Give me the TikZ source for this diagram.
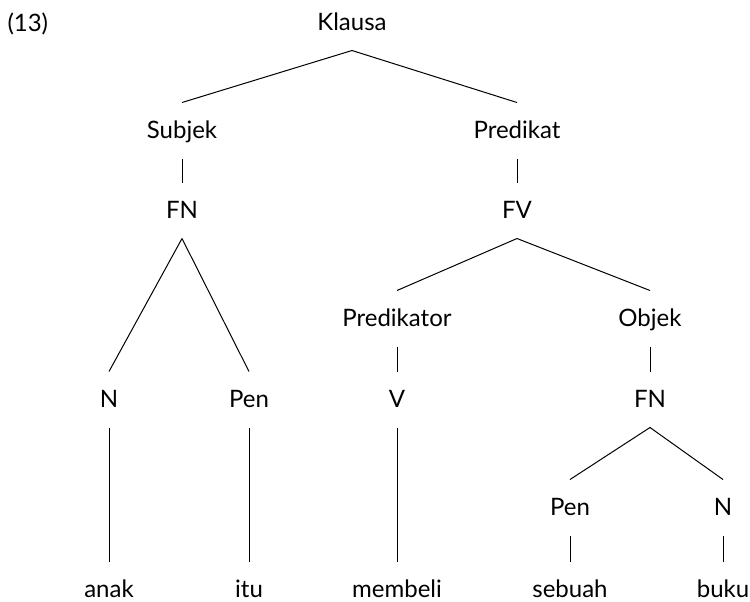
\documentclass[tikz,border=0pt]{standalone}
\usepackage{fontspec}
\newfontfamily\treefont{Lato}
\usetikzlibrary{positioning}

\tikzset{every picture/.style={line width=0.75pt}}
\tikzset{lbl/.style={anchor=base,inner xsep=0pt,inner ysep=0pt,text height=26.25pt,text depth=15pt,font=\treefont\fontsize{18}{22}\selectfont}}

\begin{document}
\begin{tikzpicture}[x=0.75pt,y=0.75pt,yscale=-1,xscale=1]
\useasboundingbox (0,0) rectangle (750,601);

% Text Node
\node [lbl,anchor=base west] (num) at (7,31) {(13)};
% Text Node
\node [lbl] (klausa) at (352,30) {Klausa};
% Text Node
\node [lbl] (subjek) at (182,138) {Subjek};
\node [lbl] (predikat) at (517,138) {Predikat};
% Text Node
\node [lbl] (fn1) at (182,218) {FN};
\node [lbl] (fv) at (517,218) {FV};
% Text Node
\node [lbl] (predikator) at (397,326) {Predikator};
\node [lbl] (objek) at (650,326) {Objek};
% Text Node
\node [lbl] (n1) at (109,407) {N};
\node [lbl] (pen1) at (249,407) {Pen};
\node [lbl] (v) at (397,407) {V};
\node [lbl] (fn2) at (650,407) {FN};
% Text Node
\node [lbl] (pen2) at (570,515) {Pen};
\node [lbl] (n2) at (723,515) {N};
% Text Node
\node [lbl] (anak) at (109,597) {anak};
\node [lbl] (itu) at (249,597) {itu};
\node [lbl] (membeli) at (397,597) {membeli};
\node [lbl] (sebuah) at (570,597) {sebuah};
\node [lbl] (buku) at (723,597) {buku};

%Straight Lines
\draw (klausa.south) -- (subjek.north) ;
\draw (klausa.south) -- (predikat.north) ;
\draw (subjek.south) -- (fn1.north) ;
\draw (predikat.south) -- (fv.north) ;
%Straight Lines
\draw (fn1.south) -- (n1.north) ;
\draw (fn1.south) -- (pen1.north) ;
\draw (fv.south) -- (predikator.north) ;
\draw (fv.south) -- (objek.north) ;
\draw (predikator.south) -- (v.north) ;
\draw (objek.south) -- (fn2.north) ;
%Straight Lines
\draw (n1.south) -- (anak.north) ;
\draw (pen1.south) -- (itu.north) ;
\draw (v.south) -- (membeli.north) ;
\draw (fn2.south) -- (pen2.north) ;
\draw (fn2.south) -- (n2.north) ;
\draw (pen2.south) -- (sebuah.north) ;
\draw (n2.south) -- (buku.north) ;

\end{tikzpicture}
\end{document}
